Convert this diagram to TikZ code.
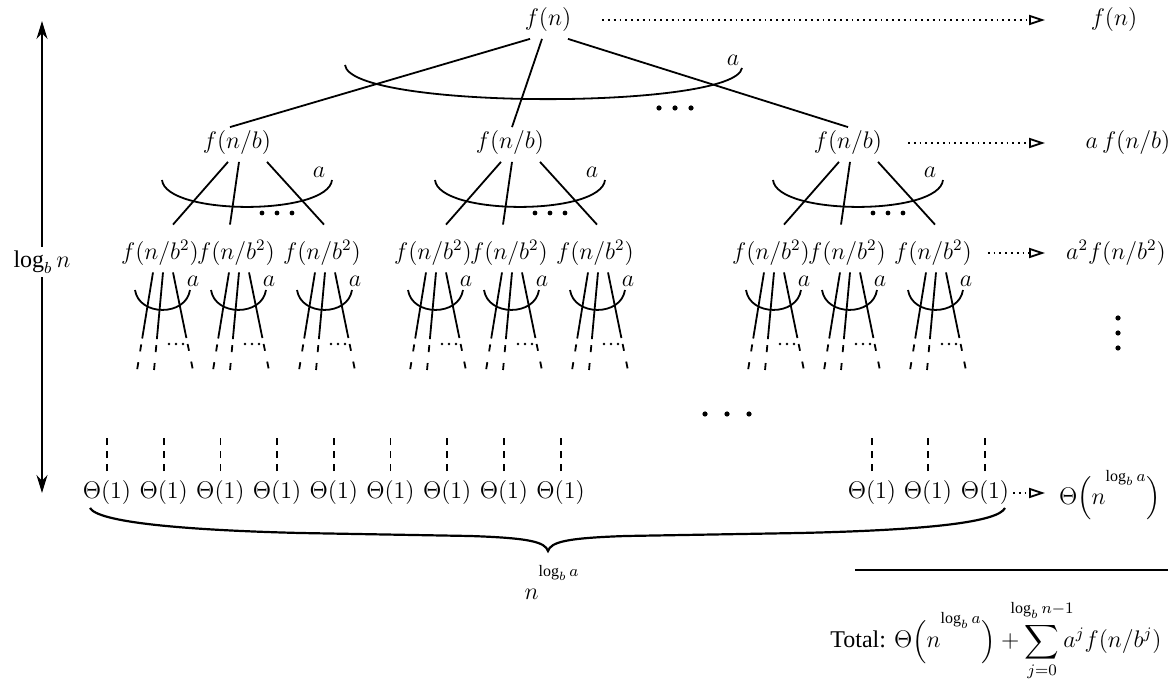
\documentclass[tikz,border=0pt]{standalone}
\usepackage{amsmath,mathtools}
\usepackage{fontspec}
\setmainfont{Liberation Serif}
\usetikzlibrary{calc,arrows.meta}

\tikzset{
  lbl/.style={inner sep=1.5pt,font=\fontsize{12}{14}\selectfont},
  fan/.style={dash pattern=on 33.5pt off 3pt on 3.5pt off 5.5pt on 3.5pt off 20pt},
  tick/.style={dash pattern=on 3.5pt off 3pt},
  sumto/.style={dotted,-{Triangle[open,length=8pt,width=5pt]}},
}
\newcommand{\nlog}{n^{\raisebox{1.3ex}{$\scriptstyle\log_b a$}}}
% lower half of an ellipse: centre x, top y, half width, depth
\newcommand{\fanarc}[4]{\draw (#1-#3,#2) .. controls (#1-#3+4,#2+1.33*#4) and (#1+#3-4,#2+1.33*#4) .. (#1+#3,#2);}

\begin{document}
\begin{tikzpicture}[x=0.5pt,y=-0.5pt,line width=0.9pt]
\useasboundingbox (0,0) rectangle (1173,683);
\coordinate (tipx) at (1045,0);

% root and first level
\node[lbl] (r) at (548,20) {$f(n)$};
\foreach \i/\x in {1/237,2/510,3/848}
  \node[lbl] (m\i) at (\x,143) {$f(n/b)$};
\draw ($(r.south)+(-18,3)$) -- ($(m1.north)+(-7,0)$);
\draw ($(r.south)+(-6,3)$) -- ($(m2.north)+(2,0)$);
\draw ($(r.south)+(20,3)$) -- (m3.north);
\draw (345,65) .. controls (350,110) and (735,110) .. (742,68);
\node[lbl] (ra) at (733,60) {$a$};
\foreach \d in {0,1,2} \fill (659+\d*16,108) circle (1.3pt);

% second level
\foreach \i/\x in {1/237,2/510,3/848}{
  \foreach \j/\o in {1/-77,2/-1,3/85}
    \node[lbl] (l\i\j) at (\x+\o,253) {$f(n/b^2)$};
  \draw ($(m\i.south)+(-9,3)$) -- ($(l\i1.north)+(13,-12)$);
  \draw ($(m\i.south)+(2,3)$) -- ($(l\i2.north)+(-6,-12)$);
  \draw ($(m\i.south)+(30,3)$) -- ($(l\i3.north)+(2,-12)$);
  \fanarc{\x+10}{180}{85}{27}
  \node[lbl] (ma\i) at (\x+82,172) {$a$};
  \foreach \d in {0,1,2} \fill (\x+25+\d*15,213) circle (1.2pt);
}

% third level, cut off
\foreach \i/\x in {1/237,2/510,3/848}
  \foreach \j/\o in {1/-77,2/-1,3/85}{
    \pgfmathsetmacro\cx{\x+\o}
    \draw[fan] ($(l\i\j.south)+(-7,3)$) -- ++(-16,98);
    \draw[fan] ($(l\i\j.south)+(3,3)$) -- ++(-9,98);
    \draw[fan] ($(l\i\j.south)+(13,3)$) -- ++(20,98);
    \fanarc{\cx+2.5}{290}{27.5}{20}
    \node[lbl] (la\i\j) at (\cx+33,281) {$a$};
    \foreach \d in {0,1,2} \fill (\cx+9+\d*7,344) circle (0.7pt);
  }

% leaves
\foreach \k in {0,...,8}
  \node[lbl] (t\k) at (107+56.7*\k,493) {$\Theta(1)$};
\foreach \k/\x in {9/872,10/928,11/985}
  \node[lbl] (t\k) at (\x,493) {$\Theta(1)$};
\foreach \k in {0,...,11}
  \draw[tick] ($(t\k.north)+(0,-6)$) -- ++(0,-33);
\foreach \d in {0,1,2} \fill (705+\d*22,414) circle (1.3pt);

% brace under the leaves
\draw[line width=1.1pt] (90,508) .. controls (98,522) and (180,530) .. (300,533) -- (470,536)
  .. controls (530,538) and (545,542) .. (548,551)
  .. controls (551,542) and (566,538) .. (626,536) -- (800,533)
  .. controls (930,530) and (998,522) .. (1005,508);
\node[lbl] (nb) at (552,582) {$\nlog$};

% height of the tree
\node[lbl,fill=white] (h) at (42,262) {$\log_b n$};
\coordinate (htop) at (42,21);
\coordinate (hbot) at (42,493);
\draw[-{Stealth[length=9pt,width=5.5pt]}] (h) -- (htop);
\draw[-{Stealth[length=9pt,width=5.5pt]}] (h) -- (hbot);

% cost of each level
\node[lbl] (s0) at (1114,20) {$f(n)$};
\node[lbl] (s1) at (1128,143) {$a\,f(n/b)$};
\node[lbl] (s2) at (1116,253) {$a^2 f(n/b^2)$};
\foreach \d in {0,1,2} \fill (1118,318+\d*15) circle (1.3pt);
\node[lbl] (s3) at (1110,495) {$\Theta\Bigl(\nlog\Bigr)$};
\draw[sumto] ($(r.east)+(27,0)$) -- (r -| tipx);
\draw[sumto] ($(m3.east)+(22,0)$) -- (m3 -| tipx);
\draw[sumto] ($(l33.east)+(12,0)$) -- (l33 -| tipx);
\draw[sumto] (t11.east) -- (t11 -| tipx);

% total
\draw (855,570) -- (1168,570);
\node[lbl,anchor=base] (tot) at (996,648)
  {Total: $\displaystyle\Theta\Bigl(\nlog\Bigr)+\sum_{j=0}^{\mathclap{\raisebox{2pt}{$\scriptstyle\log_b n-1$}}}a^j f(n/b^j)$};
\end{tikzpicture}
\end{document}
